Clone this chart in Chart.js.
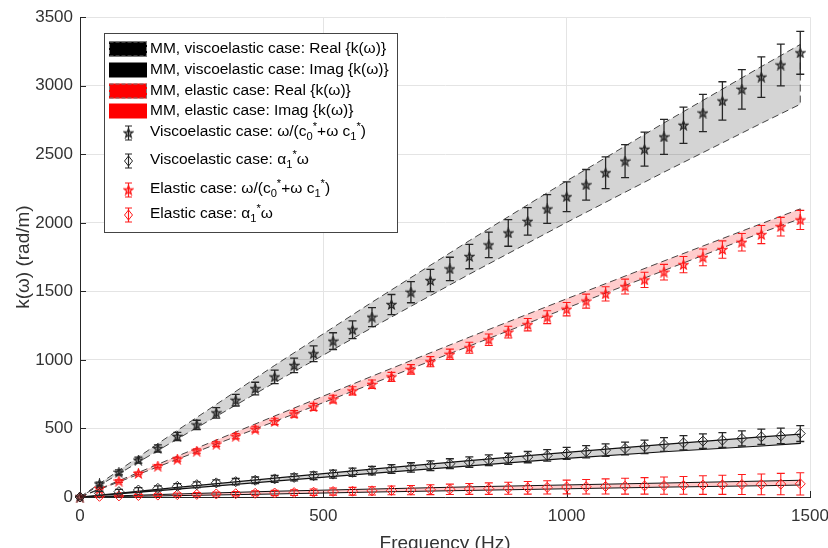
<!DOCTYPE html>
<html>
<head>
<meta charset="utf-8">
<script src="https://cdn.jsdelivr.net/npm/chart.js@4.4.1/dist/chart.umd.min.js"></script>
<style>
  html, body { margin: 0; padding: 0; background: #fff; overflow: hidden; }
  #wrap { width: 828px; height: 560px; position: relative; }
</style>
</head>
<body>
<div id="wrap"><canvas id="chart"></canvas></div>
<script>
// --- Data ---
const freqs = [0, 40, 80, 120, 160, 200, 240, 280, 320, 360, 400, 440, 480, 520, 560, 600, 640, 680, 720, 760,
  800, 840, 880, 920, 960, 1000, 1040, 1080, 1120, 1160, 1200, 1240, 1280, 1320, 1360, 1400, 1440, 1480];

// Viscoelastic case: w/(c0*+w c1*)  (black stars)
const viscoReal = [0, 95, 180, 269, 354, 442, 526, 614, 706, 791, 876, 960, 1045, 1137, 1220, 1312, 1404, 1494, 1579, 1664,
  1754, 1839, 1926, 2011, 2101, 2190, 2277, 2365, 2450, 2537, 2627, 2712, 2801, 2889, 2974, 3063, 3151, 3240];
const viscoRealErr = [0, 14, 18, 22, 26, 30, 34, 38, 42, 46, 49, 53, 57, 61, 65, 69, 73, 77, 81, 85,
  89, 93, 97, 100, 105, 109, 112, 116, 120, 124, 128, 132, 136, 140, 144, 148, 152, 156];

// Viscoelastic case: alpha1*w  (black diamonds)
const viscoImag = [0, 27, 39, 51, 63, 78, 90, 103, 112, 122, 132, 143, 155, 167, 180, 192, 204, 216, 228, 243,
  255, 268, 279, 291, 303, 318, 330, 342, 354, 366, 383, 395, 408, 415, 427, 439, 446, 463];
const viscoImagErr = [0, 15, 16, 17, 18, 20, 21, 22, 23, 24, 25, 26, 28, 29, 30, 31, 32, 34, 35, 36,
  38, 39, 40, 41, 42, 44, 45, 46, 47, 49, 50, 52, 53, 54, 55, 56, 57, 58];

// Elastic case: w/(c0*+w c1*)  (red stars)
const elasticReal = [0, 63, 116, 172, 225, 276, 335, 386, 444, 495, 551, 606, 657, 714, 774, 822, 876, 931, 987, 1041,
  1089, 1147, 1203, 1257, 1312, 1370, 1429, 1482, 1535, 1584, 1640, 1695, 1748, 1805, 1858, 1914, 1972, 2021];
const elasticRealErr = [0, 7, 9, 10, 12, 14, 16, 17, 19, 21, 23, 24, 26, 28, 30, 31, 33, 35, 37, 38,
  40, 42, 43, 45, 47, 49, 51, 52, 54, 56, 57, 59, 61, 63, 64, 66, 68, 70];

// Elastic case: alpha1*w  (red diamonds)
const elasticImag = [0, 5, 8, 11, 14, 17, 19, 22, 24, 27, 29, 32, 35, 40, 42, 45, 48, 50, 53, 56,
  59, 61, 64, 67, 70, 73, 75, 77, 79, 81, 83, 85, 87, 89, 91, 92, 94, 96];
const elasticImagErr = [0, 4, 6, 8, 10, 12, 13, 15, 16, 18, 19, 21, 23, 26, 28, 30, 32, 34, 36, 38,
  40, 42, 44, 46, 48, 50, 53, 55, 58, 60, 63, 65, 68, 70, 73, 76, 78, 81];

// MM model bands (upper / lower edges)
const bandFreqs = [0, 200, 400, 600, 800, 1000, 1200, 1400, 1480];
const viscoRealUpper = [0, 486, 960, 1421, 1870, 2306, 2729, 3140, 3301];
const viscoRealLower = [0, 423, 835, 1235, 1625, 2003, 2370, 2726, 2865];
const elasticRealUpper = [0, 298, 591, 881, 1166, 1446, 1722, 1994, 2102];
const elasticRealLower = [0, 275, 551, 826, 1101, 1378, 1652, 1928, 2030];
const viscoImagUpper = [0, 70, 138, 203, 266, 326, 384, 438, 459];
const viscoImagLower = [0, 58, 116, 172, 227, 282, 330, 372, 391];
const elasticImagUpper = [0, 22, 42, 58, 74, 88, 102, 116, 122];
const elasticImagLower = [0, 10, 22, 36, 48, 60, 72, 82, 87];

const xTicks = [0, 500, 1000, 1500];
const yTicks = [0, 500, 1000, 1500, 2000, 2500, 3000, 3500];

// --- Styling ---
const FONT = '"Liberation Sans", Arial, Helvetica, sans-serif';
const AXIS = '#262626';
const TXT = '#333';
const GRID = '#e4e4e4';
const BLACK = '#262626';
const RED = '#ff1a1a';

function starMarker(color, fill) {
  const c = document.createElement('canvas');
  c.width = 11; c.height = 11;
  const g = c.getContext('2d');
  g.strokeStyle = color; g.fillStyle = fill; g.lineWidth = 1.2;
  g.beginPath();
  for (let k = 0; k < 10; k++) {
    const r = k % 2 ? 2 : 4.8;
    const a = -Math.PI / 2 + k * Math.PI / 5;
    const px = 5.5 + r * Math.cos(a), py = 5.8 + r * Math.sin(a);
    if (k) g.lineTo(px, py); else g.moveTo(px, py);
  }
  g.closePath(); g.fill(); g.stroke();
  return c;
}
const blackStar = starMarker(BLACK, 'rgba(0,0,0,0.35)');
const redStar = starMarker(RED, 'rgba(255,0,0,0.35)');

function pts(xs, ys) { return xs.map((x, i) => ({ x: x, y: ys[i] })); }
function bandShape(upper, lower) {
  // trace the upper edge out and the lower edge back so the polygon can be filled
  return pts(bandFreqs, upper).concat(pts(bandFreqs, lower).reverse());
}

function band(upper, lower, fill, dashed, width) {
  return {
    data: bandShape(upper, lower), showLine: true, fill: 'shape',
    backgroundColor: fill, borderColor: dashed ? 'rgba(0,0,0,0.72)' : '#111',
    borderWidth: width, borderDash: dashed ? [7, 4] : [], pointRadius: 0, tension: 0, order: 2
  };
}
function markers(ys, errs, style, color, radius) {
  return {
    data: pts(freqs, ys), errors: errs, errorColor: color, errorWidth: color === RED ? 1.1 : 1.3,
    pointStyle: style, pointRadius: radius, borderColor: color, backgroundColor: 'rgba(0,0,0,0)',
    pointBorderWidth: 1, showLine: false, clip: false, order: 1
  };
}

const errorBars = {
  id: 'errorBars',
  beforeDatasetDraw(chart, args) {
    const ds = chart.data.datasets[args.index];
    if (!ds.errors) return;
    const { ctx, scales: { x, y } } = chart;
    ctx.save();
    ctx.strokeStyle = ds.errorColor; ctx.lineWidth = ds.errorWidth;
    ds.data.forEach((p, i) => {
      const e = ds.errors[i];
      if (!e) return;
      const px = x.getPixelForValue(p.x);
      const top = y.getPixelForValue(p.y + e), bot = y.getPixelForValue(p.y - e);
      ctx.beginPath();
      ctx.moveTo(px, top); ctx.lineTo(px, bot);
      ctx.moveTo(px - 4, top); ctx.lineTo(px + 4, top);
      ctx.moveTo(px - 4, bot); ctx.lineTo(px + 4, bot);
      ctx.stroke();
    });
    ctx.restore();
  }
};

// MATLAB-like inward tick marks
const inwardTicks = {
  id: 'inwardTicks',
  beforeDatasetsDraw(chart) {
    const { ctx, chartArea: a, scales: { x, y } } = chart;
    ctx.save();
    ctx.strokeStyle = AXIS; ctx.lineWidth = 1;
    ctx.beginPath();
    yTicks.forEach(v => { const py = Math.round(y.getPixelForValue(v)) + 0.5; ctx.moveTo(a.left, py); ctx.lineTo(a.left + 6, py); });
    xTicks.forEach(v => { const px = Math.round(x.getPixelForValue(v)) + 0.5; ctx.moveTo(px, a.bottom); ctx.lineTo(px, a.bottom - 6); });
    ctx.stroke();
    ctx.restore();
  }
};

// legend entries drawn inside the axes, like the original figure
const legendRows = [
  { kind: 'patch', color: '#000', dashed: true, y: 49, parts: [['MM, viscoelastic case: Real {k(ω)}']] },
  { kind: 'patch', color: '#000', dashed: false, y: 70, parts: [['MM, viscoelastic case: Imag {k(ω)}']] },
  { kind: 'patch', color: '#ff0000', dashed: true, y: 91, parts: [['MM, elastic case: Real {k(ω)}']] },
  { kind: 'patch', color: '#ff0000', dashed: false, y: 111, parts: [['MM, elastic case: Imag {k(ω)}']] },
  { kind: 'star', color: BLACK, y: 132, parts: [['Viscoelastic case: ω/(c'], ['0', 'sub'], ['*', 'sup'], ['+ω c'], ['1', 'sub'], ['*', 'sup'], [')']] },
  { kind: 'diamond', color: BLACK, y: 160, parts: [['Viscoelastic case: α'], ['1', 'sub'], ['*', 'sup'], ['ω']] },
  { kind: 'star', color: RED, y: 189, parts: [['Elastic case: ω/(c'], ['0', 'sub'], ['*', 'sup'], ['+ω c'], ['1', 'sub'], ['*', 'sup'], [')']] },
  { kind: 'diamond', color: RED, y: 214, parts: [['Elastic case: α'], ['1', 'sub'], ['*', 'sup'], ['ω']] }
];

function drawRich(ctx, parts, x, y, size) {
  parts.forEach(([t, m]) => {
    const s = m ? size * 0.72 : size;
    ctx.font = s + 'px ' + FONT;
    const dy = m === 'sub' ? size * 0.32 : m === 'sup' ? -size * 0.3 : 0;
    ctx.fillText(t, x, y + dy);
    x += ctx.measureText(t).width;
  });
}

const boxLegend = {
  id: 'boxLegend',
  afterDraw(chart) {
    const ctx = chart.ctx;
    ctx.save();
    ctx.fillStyle = '#fff';
    ctx.fillRect(104, 33, 293, 199);
    ctx.strokeStyle = '#444'; ctx.lineWidth = 1;
    ctx.strokeRect(104.5, 33.5, 293, 199);
    legendRows.forEach(r => {
      if (r.kind === 'patch') {
        ctx.fillStyle = r.color;
        ctx.fillRect(109, r.y - 7.5, 38, 15);
        if (r.dashed) {
          ctx.setLineDash([4, 2]); ctx.strokeStyle = '#777';
          ctx.strokeRect(109.5, r.y - 7, 37, 14);
          ctx.setLineDash([]);
        }
      } else {
        const cx = 128.5, cy = r.y + 1;
        ctx.strokeStyle = r.color; ctx.lineWidth = 1.2;
        ctx.beginPath();
        ctx.moveTo(cx, cy - 7); ctx.lineTo(cx, cy + 7);
        ctx.moveTo(cx - 3.5, cy - 7); ctx.lineTo(cx + 3.5, cy - 7);
        ctx.moveTo(cx - 3.5, cy + 7); ctx.lineTo(cx + 3.5, cy + 7);
        ctx.stroke();
        if (r.kind === 'star') {
          const img = r.color === RED ? redStar : blackStar;
          ctx.drawImage(img, cx - img.width / 2, cy - img.height / 2);
        } else {
          ctx.lineWidth = 1;
          ctx.beginPath();
          ctx.moveTo(cx, cy - 5); ctx.lineTo(cx + 4, cy); ctx.lineTo(cx, cy + 5); ctx.lineTo(cx - 4, cy);
          ctx.closePath(); ctx.stroke();
        }
      }
      ctx.fillStyle = '#000';
      ctx.textBaseline = 'middle'; ctx.textAlign = 'left';
      drawRich(ctx, r.parts, 150, r.y, 15.5);
    });
    ctx.restore();
  }
};

new Chart(document.getElementById('chart'), {
  type: 'scatter',
  data: {
    datasets: [
      band(viscoRealUpper, viscoRealLower, 'rgba(0,0,0,0.17)', true, 1),
      band(viscoImagUpper, viscoImagLower, 'rgba(0,0,0,0.17)', false, 1.2),
      band(elasticRealUpper, elasticRealLower, 'rgba(255,0,0,0.2)', true, 1),
      band(elasticImagUpper, elasticImagLower, 'rgba(255,0,0,0.2)', false, 1),
      markers(viscoReal, viscoRealErr, blackStar, BLACK, 4),
      markers(viscoImag, viscoImagErr, 'rectRot', BLACK, 5),
      markers(elasticReal, elasticRealErr, redStar, RED, 4),
      markers(elasticImag, elasticImagErr, 'rectRot', RED, 5)
    ]
  },
  options: {
    responsive: true,
    maintainAspectRatio: false,
    animation: false,
    events: [],
    layout: { padding: { top: 16, right: 18, left: 0, bottom: 0 } },
    plugins: { legend: { display: false }, tooltip: { enabled: false } },
    scales: {
      x: {
        type: 'linear', min: 0, max: 1500,
        // fixed axis band; let the "1500" label overhang into the right margin
        afterFit: s => { s.height = 63; s.paddingRight = 0; s.paddingLeft = 0; },
        afterBuildTicks: s => { s.ticks = xTicks.map(v => ({ value: v })); },
        ticks: { padding: 9, color: TXT, maxRotation: 0, font: { size: 17, family: FONT }, callback: v => String(v) },
        grid: { color: GRID, drawTicks: false },
        border: { color: AXIS, width: 1 },
        title: { display: true, text: 'Frequency (Hz)', color: TXT, font: { size: 19, family: FONT }, padding: { top: 0, bottom: 5 } }
      },
      y: {
        min: 0, max: 3500,
        afterFit: s => { s.width = 80; },
        afterBuildTicks: s => { s.ticks = yTicks.map(v => ({ value: v })); },
        ticks: { padding: 7, color: TXT, font: { size: 17, family: FONT }, callback: v => String(v) },
        grid: { color: GRID, drawTicks: false },
        border: { color: AXIS, width: 1 },
        title: { display: true, text: 'k(ω) (rad/m)', color: TXT, font: { size: 19, family: FONT }, padding: { top: 12, bottom: 0 } }
      }
    }
  },
  plugins: [errorBars, inwardTicks, boxLegend]
});
</script>
</body>
</html>
